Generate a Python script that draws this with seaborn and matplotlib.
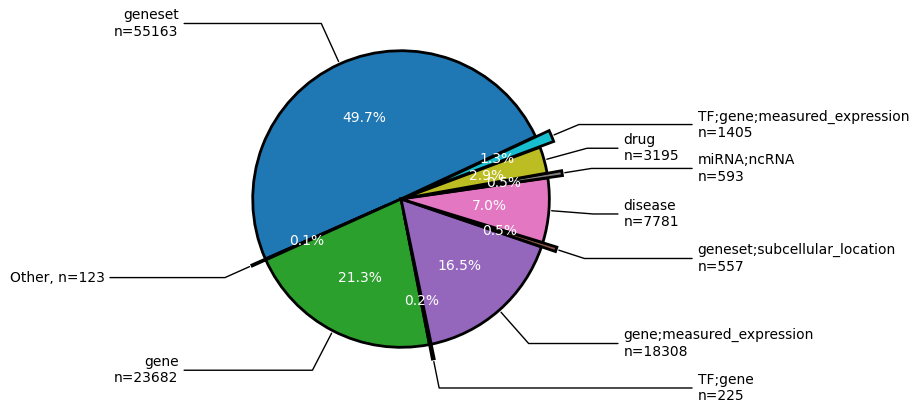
import numpy as np
import matplotlib
matplotlib.use("Agg")
import matplotlib.pyplot as plt
import seaborn as sns

# Data (counter-clockwise order, starting from "geneset")
categories = ["geneset", "Other", "gene", "TF;gene", "gene;measured_expression",
              "geneset;subcellular_location", "disease", "miRNA;ncRNA", "drug",
              "TF;gene;measured_expression"]
counts = [55163, 123, 23682, 225, 18308, 557, 7781, 593, 3195, 1405]
explode = [0.0, 0.1, 0.0, 0.1, 0.0, 0.1, 0.0, 0.1, 0.0, 0.1]

colors = sns.color_palette("tab10", len(categories))

fig = plt.figure(figsize=(9.17, 4.13), dpi=100)
ax = fig.add_axes([0, 0, 1, 1])

wedges, texts, autotexts = ax.pie(
    counts, explode=explode, colors=colors, startangle=25, counterclock=True,
    autopct="%1.1f%%", pctdistance=0.6,
    wedgeprops=dict(edgecolor="black", linewidth=2),
    textprops=dict(color="white", fontsize=10),
)

ax.set_xlim(-2.704, 3.479)
ax.set_ylim(-1.443, 1.342)
ax.set_aspect("auto")
ax.axis("off")

for i, p in enumerate(wedges):
    ang = (p.theta2 + p.theta1) / 2.0
    r = 1.0 + explode[i]
    x = np.cos(np.deg2rad(ang))
    y = np.sin(np.deg2rad(ang))
    sx = 1 if x >= 0 else -1
    ha = "left" if sx > 0 else "right"
    if categories[i] == "Other":
        label = f"Other, n={counts[i]}"
    else:
        label = f"{categories[i]}\nn={counts[i]}"
    xt = (1.5 + 0.5 * (i % 2)) * sx
    yt = 1.3 * y
    ax.annotate(
        label, xy=(r * x, r * y), xytext=(xt, yt), ha=ha, va="center",
        fontsize=10, color="black", zorder=0,
        arrowprops=dict(arrowstyle="-", color="black", lw=1,
                        connectionstyle=f"angle,angleA=0,angleB={ang}"),
    )

fig.savefig("out.png", dpi=100)
